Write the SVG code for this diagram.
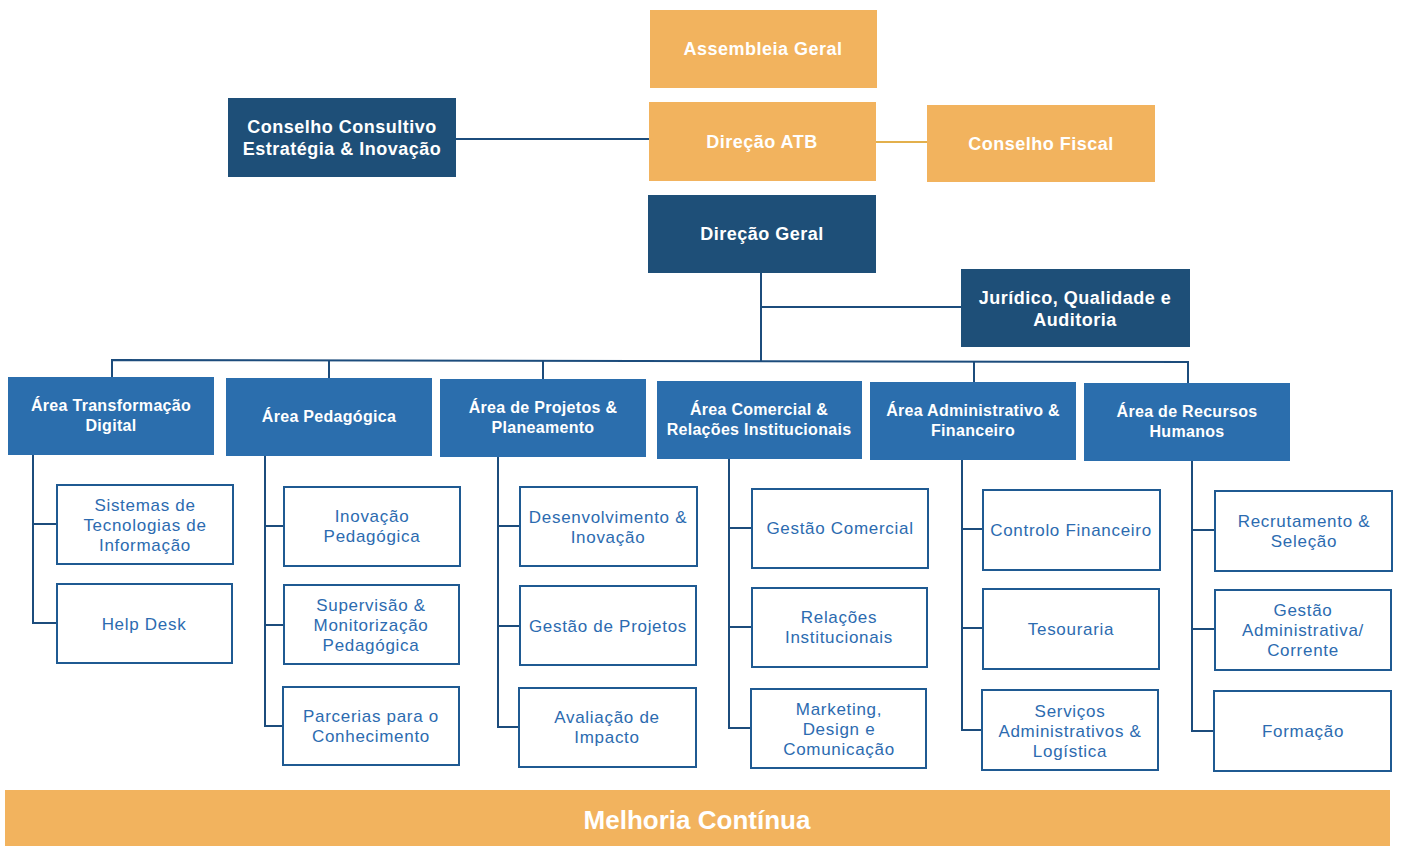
<svg xmlns="http://www.w3.org/2000/svg" width="1401" height="846" viewBox="0 0 1401 846">
<style>
.org{fill:#F2B35E}
.navy{fill:#1E4F78}
.area{fill:#2B6EAD}
.sub{fill:#fff;stroke:#1F5A92;stroke-width:2}
.hd{font-family:"Liberation Sans",Arial,sans-serif;font-weight:700;fill:#fff;text-anchor:middle}
.t{font-size:18px;letter-spacing:0.5px}
.a{font-size:16px;letter-spacing:0.3px}
.s{font-family:"Liberation Sans",Arial,sans-serif;font-size:17px;letter-spacing:0.7px;fill:#2C6BB0;text-anchor:middle}
.ln{fill:none;stroke:#1C4C7C;stroke-width:2}
</style>
<rect width="1401" height="846" fill="#fff"/>
<g id="connectors">
<line class="ln" x1="456" y1="139" x2="649" y2="139"/>
<line x1="876" y1="142" x2="927" y2="142" stroke="#E3B04C" stroke-width="2"/>
<line class="ln" x1="761" y1="273" x2="761" y2="361"/>
<line class="ln" x1="761" y1="307" x2="961" y2="307"/>
<polyline class="ln" points="112,377 112,360 1188,362 1188,383"/>
<line class="ln" x1="329" y1="360" x2="329" y2="378"/>
<line class="ln" x1="543" y1="360" x2="543" y2="379"/>
<line class="ln" x1="974" y1="362" x2="974" y2="382"/>
<polyline class="ln" points="33,455 33,623 57,623"/>
<line class="ln" x1="33" y1="524" x2="57" y2="524"/>
<polyline class="ln" points="265,456 265,726 284,726"/>
<line class="ln" x1="265" y1="526" x2="284" y2="526"/>
<line class="ln" x1="265" y1="625" x2="284" y2="625"/>
<polyline class="ln" points="498,457 498,727 520,727"/>
<line class="ln" x1="498" y1="526" x2="520" y2="526"/>
<line class="ln" x1="498" y1="626" x2="520" y2="626"/>
<polyline class="ln" points="729,459 729,728 752,728"/>
<line class="ln" x1="729" y1="528" x2="752" y2="528"/>
<line class="ln" x1="729" y1="627" x2="752" y2="627"/>
<polyline class="ln" points="962,460 962,730 983,730"/>
<line class="ln" x1="962" y1="529" x2="983" y2="529"/>
<line class="ln" x1="962" y1="628" x2="983" y2="628"/>
<polyline class="ln" points="1192,461 1192,731 1215,731"/>
<line class="ln" x1="1192" y1="530" x2="1215" y2="530"/>
<line class="ln" x1="1192" y1="629" x2="1215" y2="629"/>
</g>
<g id="assembleia"><rect class="org" x="650" y="10" width="227" height="78"/><text class="hd t" x="763" y="55">Assembleia Geral</text></g>
<g id="direcao-atb"><rect class="org" x="649" y="102" width="227" height="79"/><text class="hd t" x="762" y="148">Direção ATB</text></g>
<g id="conselho-fiscal"><rect class="org" x="927" y="105" width="228" height="77"/><text class="hd t" x="1041" y="150">Conselho Fiscal</text></g>
<g id="conselho-consultivo"><rect class="navy" x="228" y="98" width="228" height="79"/><text class="hd t" x="342" y="133">Conselho Consultivo</text><text class="hd t" x="342" y="155">Estratégia &amp; Inovação</text></g>
<g id="direcao-geral"><rect class="navy" x="648" y="195" width="228" height="78"/><text class="hd t" x="762" y="240">Direção Geral</text></g>
<g id="juridico"><rect class="navy" x="961" y="269" width="229" height="78"/><text class="hd t" x="1075" y="304">Jurídico, Qualidade e</text><text class="hd t" x="1075" y="326">Auditoria</text></g>
<g id="area-td"><rect class="area" x="8" y="377" width="206" height="78"/><text class="hd a" x="111" y="411">Área Transformação</text><text class="hd a" x="111" y="431">Digital</text></g>
<g id="area-ped"><rect class="area" x="226" y="378" width="206" height="78"/><text class="hd a" x="329" y="422">Área Pedagógica</text></g>
<g id="area-proj"><rect class="area" x="440" y="379" width="206" height="78"/><text class="hd a" x="543" y="413">Área de Projetos &amp;</text><text class="hd a" x="543" y="433">Planeamento</text></g>
<g id="area-com"><rect class="area" x="657" y="381" width="205" height="78"/><text class="hd a" x="759" y="415">Área Comercial &amp;</text><text class="hd a" x="759" y="435">Relações Institucionais</text></g>
<g id="area-adm"><rect class="area" x="870" y="382" width="206" height="78"/><text class="hd a" x="973" y="416">Área Administrativo &amp;</text><text class="hd a" x="973" y="436">Financeiro</text></g>
<g id="area-rh"><rect class="area" x="1084" y="383" width="206" height="78"/><text class="hd a" x="1187" y="417">Área de Recursos</text><text class="hd a" x="1187" y="437">Humanos</text></g>
<g id="sti"><rect class="sub" x="57" y="485" width="176" height="79"/><text class="s" x="145" y="511">Sistemas de</text><text class="s" x="145" y="531">Tecnologias de</text><text class="s" x="145" y="551">Informação</text></g>
<g id="helpdesk"><rect class="sub" x="57" y="584" width="175" height="79"/><text class="s" x="144" y="630">Help Desk</text></g>
<g id="inov-ped"><rect class="sub" x="284" y="487" width="176" height="79"/><text class="s" x="372" y="522">Inovação</text><text class="s" x="372" y="542">Pedagógica</text></g>
<g id="superv"><rect class="sub" x="284" y="585" width="175" height="79"/><text class="s" x="371" y="611">Supervisão &amp;</text><text class="s" x="371" y="631">Monitorização</text><text class="s" x="371" y="651">Pedagógica</text></g>
<g id="parcerias"><rect class="sub" x="283" y="687" width="176" height="78"/><text class="s" x="371" y="722">Parcerias para o</text><text class="s" x="371" y="742">Conhecimento</text></g>
<g id="desenv"><rect class="sub" x="520" y="487" width="177" height="79"/><text class="s" x="608" y="523">Desenvolvimento &amp;</text><text class="s" x="608" y="543">Inovação</text></g>
<g id="gest-proj"><rect class="sub" x="520" y="586" width="176" height="79"/><text class="s" x="608" y="632">Gestão de Projetos</text></g>
<g id="aval"><rect class="sub" x="519" y="688" width="177" height="79"/><text class="s" x="607" y="723">Avaliação de</text><text class="s" x="607" y="743">Impacto</text></g>
<g id="gest-com"><rect class="sub" x="752" y="489" width="176" height="79"/><text class="s" x="840" y="534">Gestão Comercial</text></g>
<g id="rel-inst"><rect class="sub" x="752" y="588" width="175" height="79"/><text class="s" x="839" y="623">Relações</text><text class="s" x="839" y="643">Institucionais</text></g>
<g id="marketing"><rect class="sub" x="751" y="689" width="175" height="79"/><text class="s" x="839" y="715">Marketing,</text><text class="s" x="839" y="735">Design e</text><text class="s" x="839" y="755">Comunicação</text></g>
<g id="ctrl-fin"><rect class="sub" x="983" y="490" width="177" height="80"/><text class="s" x="1071" y="536">Controlo Financeiro</text></g>
<g id="tesouraria"><rect class="sub" x="983" y="589" width="176" height="80"/><text class="s" x="1071" y="635">Tesouraria</text></g>
<g id="servicos"><rect class="sub" x="982" y="690" width="176" height="80"/><text class="s" x="1070" y="717">Serviços</text><text class="s" x="1070" y="737">Administrativos &amp;</text><text class="s" x="1070" y="757">Logística</text></g>
<g id="recrut"><rect class="sub" x="1215" y="491" width="177" height="80"/><text class="s" x="1304" y="527">Recrutamento &amp;</text><text class="s" x="1304" y="547">Seleção</text></g>
<g id="gest-adm"><rect class="sub" x="1215" y="590" width="176" height="80"/><text class="s" x="1303" y="616">Gestão</text><text class="s" x="1303" y="636">Administrativa/</text><text class="s" x="1303" y="656">Corrente</text></g>
<g id="formacao"><rect class="sub" x="1214" y="691" width="177" height="80"/><text class="s" x="1303" y="737">Formação</text></g>
<g id="melhoria"><rect class="org" x="5" y="790" width="1385" height="56"/><text class="hd" x="697" y="829" font-size="26">Melhoria Contínua</text></g>
</svg>
